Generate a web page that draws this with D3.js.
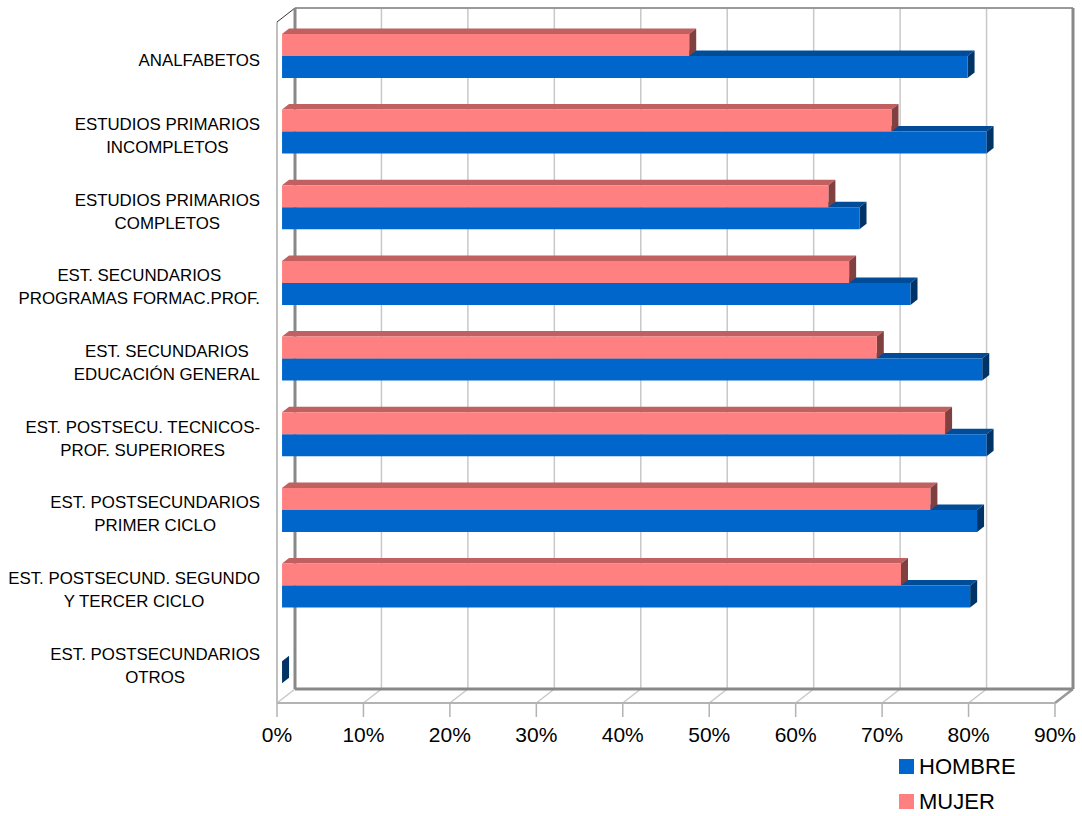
<!DOCTYPE html>
<html><head><meta charset="utf-8">
<script src="https://cdn.jsdelivr.net/npm/d3@7"></script>
<style>body{margin:0;background:#fff}svg{display:block;font-family:"Liberation Sans",Arial,sans-serif}</style>
</head><body><svg id="c" width="1082" height="816"></svg>
<script>
const categories = [
  ["ANALFABETOS"],
  ["ESTUDIOS PRIMARIOS","INCOMPLETOS"],
  ["ESTUDIOS PRIMARIOS","COMPLETOS"],
  ["EST. SECUNDARIOS","PROGRAMAS FORMAC.PROF."],
  ["EST. SECUNDARIOS","EDUCACIÓN GENERAL"],
  ["EST. POSTSECU. TECNICOS-","PROF. SUPERIORES"],
  ["EST. POSTSECUNDARIOS","PRIMER CICLO"],
  ["EST. POSTSECUND. SEGUNDO","Y TERCER CICLO"],
  ["EST. POSTSECUNDARIOS","OTROS"]
];
const hombre = [0.793, 0.815, 0.668, 0.727, 0.810, 0.815, 0.804, 0.796, 0.0];
const mujer  = [0.471, 0.705, 0.632, 0.656, 0.688, 0.767, 0.750, 0.716, null];
const series = ["MUJER","HOMBRE"];
const tickValues = [0,0.1,0.2,0.3,0.4,0.5,0.6,0.7,0.8,0.9];

const colors = {
  HOMBRE: {front:"#0066cc", top:"#004c99", side:"#003366"},
  MUJER:  {front:"#ff8080", top:"#c06060", side:"#804040"}
};

const svg = d3.select("#c");
const DX = 18, DY = -14;            // full depth offset
const F0 = 0.28, F1 = 0.67;         // bar depth span
const x = d3.scaleLinear().domain([0,0.9]).range([277,1055]);
const ids = categories.map((c,i)=>"c"+i);
const y0 = d3.scaleBand().domain(ids).range([22,703]).padding(0);
const y1 = d3.scaleBand().domain(series).range([0,y0.bandwidth()]).paddingInner(0).paddingOuter(0.72);
const P = (px,py,f)=>[px+DX*f, py+DY*f];
const poly = pts => "M"+pts.map(p=>p.join(",")).join("L")+"Z";

const g = svg.append("g");
const xMin = x(0), xMax = x(0.9), yTop = y0.range()[0], yBot = y0.range()[1];

// back wall gridlines
g.selectAll(".grid").data(tickValues.slice(1,-1)).enter().append("line")
  .attr("x1",d=>P(x(d),yTop,1)[0]).attr("x2",d=>P(x(d),yBot,1)[0])
  .attr("y1",P(0,yTop,1)[1]).attr("y2",P(0,yBot,1)[1])
  .attr("stroke","#c8c8c8").attr("stroke-width",1.5);
// floor diagonals
g.selectAll(".fd").data(tickValues).enter().append("line")
  .attr("x1",d=>x(d)).attr("y1",yBot)
  .attr("x2",d=>P(x(d),yBot,1)[0]).attr("y2",P(0,yBot,1)[1])
  .attr("stroke",(d,i)=>i===tickValues.length-1?"#999":"#c8c8c8")
  .attr("stroke-width",(d,i)=>i===tickValues.length-1?2.5:1.5);
// front floor line
g.append("line").attr("x1",xMin).attr("x2",xMax).attr("y1",yBot).attr("y2",yBot)
  .attr("stroke","#b3b3b3").attr("stroke-width",2);
// ticks
g.selectAll(".tk").data(tickValues).enter().append("line")
  .attr("x1",d=>x(d)).attr("x2",d=>x(d)).attr("y1",yBot).attr("y2",yBot+14)
  .attr("stroke","#b3b3b3").attr("stroke-width",1.5);
// left front line
g.append("line").attr("x1",xMin).attr("x2",xMin).attr("y1",yTop).attr("y2",yBot)
  .attr("stroke","#c0c0c0").attr("stroke-width",2);
// top-left diagonal
g.append("line").attr("x1",xMin).attr("y1",yTop)
  .attr("x2",P(xMin,yTop,1)[0]).attr("y2",P(xMin,yTop,1)[1])
  .attr("stroke","#333").attr("stroke-width",1);
// back wall frame
const bl = P(xMin,yBot,1), tl = P(xMin,yTop,1), tr = P(xMax,yTop,1), br = P(xMax,yBot,1);
g.append("line").attr("x1",tl[0]).attr("y1",tl[1]).attr("x2",tr[0]).attr("y2",tr[1]).attr("stroke","#999").attr("stroke-width",2);
g.append("line").attr("x1",tl[0]).attr("y1",tl[1]).attr("x2",bl[0]).attr("y2",bl[1]).attr("stroke","#888").attr("stroke-width",3);
g.append("line").attr("x1",bl[0]).attr("y1",bl[1]).attr("x2",br[0]).attr("y2",br[1]).attr("stroke","#888").attr("stroke-width",3);
g.append("line").attr("x1",tr[0]).attr("y1",tr[1]).attr("x2",br[0]).attr("y2",br[1]).attr("stroke","#888").attr("stroke-width",3);

// bars
const bars = [];
ids.forEach((id,i)=>{
  [["HOMBRE",hombre[i]],["MUJER",mujer[i]]].forEach(([s,v])=>{
    if(v===null) return;
    bars.push({id,s,v});
  });
});
const bg = g.append("g");
bars.forEach(b=>{
  const yt = y0(b.id)+y1(b.s), yb = yt+y1.bandwidth();
  const xa = x(0), xb = x(b.v);
  const c = colors[b.s];
  bg.append("path").attr("d",poly([P(xa,yt,F0),P(xb,yt,F0),P(xb,yt,F1),P(xa,yt,F1)])).attr("fill",c.top);
  bg.append("path").attr("d",poly([P(xb,yt,F0),P(xb,yt,F1),P(xb,yb,F1),P(xb,yb,F0)])).attr("fill",c.side);
  if(b.v>0) bg.append("path").attr("d",poly([P(xa,yt,F0),P(xb,yt,F0),P(xb,yb,F0),P(xa,yb,F0)])).attr("fill",c.front);
});

// tick labels
g.selectAll(".tl").data(tickValues).enter().append("text")
  .attr("x",d=>x(d)).attr("y",742).attr("text-anchor","middle")
  .attr("font-size",21).attr("fill","#000").text(d3.format(".0%"));

// category labels
categories.forEach((lines,i)=>{
  const cy = y0(ids[i])+y0.bandwidth()/2;
  const t = g.append("text").attr("font-size",16.85).attr("fill","#000");
  const n = lines.length, lh = 23;
  const spans = lines.map((l,k)=>t.append("tspan").attr("y",cy+6+(k-(n-1)/2)*lh).text(l));
  const w = d3.max(spans, s=>s.node().getComputedTextLength());
  const cx = 260 - w/2;
  spans.forEach(s=>s.attr("x",cx).attr("text-anchor","middle"));
});

// legend
const legend = [["HOMBRE",759],["MUJER",794]];
const lg = svg.append("g");
legend.forEach(([s,yy])=>{
  lg.append("rect").attr("x",899).attr("y",yy).attr("width",15).attr("height",15).attr("fill",colors[s].front);
  lg.append("text").attr("x",919).attr("y",yy+15).attr("font-size",22).attr("fill","#000").text(s);
});
</script></body></html>
